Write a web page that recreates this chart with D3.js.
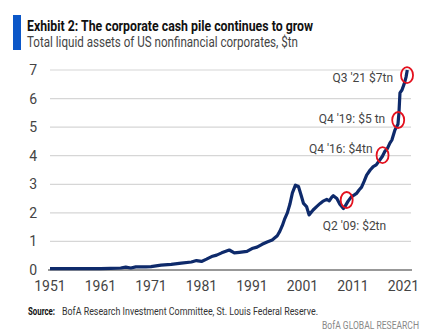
<!DOCTYPE html>
<html>
<head>
<meta charset="utf-8">
<script src="https://cdn.jsdelivr.net/npm/d3@7"></script>
<style>
  body { margin: 0; background: #fff; }
  svg { display: block; font-family: "Liberation Sans Narrow", "Roboto", sans-serif; }
</style>
</head>
<body>
<svg id="chart" width="443" height="333"></svg>
<script>
// Total liquid assets of US nonfinancial corporates, $tn
const years = [1951, 1953, 1955, 1957, 1959, 1961, 1963, 1965, 1966, 1967, 1968, 1970, 1971, 1973, 1975,
  1977, 1979, 1980, 1981, 1982, 1983, 1984, 1985, 1986.5, 1987.5, 1988.5, 1990, 1991, 1992, 1993,
  1994, 1995, 1996, 1996.5, 1997, 1997.5, 1998, 1998.5, 1999, 1999.6, 2000.2, 2000.8, 2001.2, 2001.8,
  2002.3, 2003.1, 2003.8, 2004.5, 2005, 2005.8, 2006.3, 2006.8, 2007.1, 2007.8, 2008.4, 2009.1,
  2009.4, 2010, 2010.7, 2011.2, 2011.7, 2012.2, 2012.7, 2013.2, 2013.7, 2014.4, 2015, 2015.6,
  2016.3, 2016.8, 2017.3, 2017.8, 2018.3, 2018.7, 2019.3, 2019.9, 2020.1, 2020.3, 2020.7, 2021.2,
  2021.5, 2021.75];
const values = [0.05, 0.05, 0.05, 0.05, 0.05, 0.05, 0.06, 0.07, 0.1, 0.07, 0.11, 0.11, 0.12, 0.17, 0.2,
  0.24, 0.28, 0.33, 0.3, 0.38, 0.47, 0.52, 0.6, 0.7, 0.6, 0.62, 0.65, 0.75, 0.8, 0.9,
  0.98, 1.05, 1.2, 1.35, 1.55, 1.8, 2.0, 2.3, 2.7, 2.97, 2.92, 2.57, 2.33, 2.22,
  1.93, 2.1, 2.22, 2.33, 2.4, 2.47, 2.42, 2.55, 2.6, 2.5, 2.3, 2.15,
  2.22, 2.4, 2.57, 2.62, 2.68, 2.8, 2.9, 3.1, 3.32, 3.5, 3.62, 3.68,
  3.85, 3.97, 4.15, 4.25, 4.44, 4.55, 4.9, 5.1, 5.5, 6.2, 6.3, 6.55,
  6.75, 7.0];

const yTicks = [0, 1, 2, 3, 4, 5, 6, 7];
const xTicks = [1951, 1961, 1971, 1981, 1991, 2001, 2011, 2021];

// Highlighted quarters (ring centre on the line, label offset from it)
const callouts = [
  { label: "Q2 '09: $2tn", year: 2009.75, value: 2.45, dx: -24, dy: 30, anchor: "start" },
  { label: "Q4 '16: $4tn", year: 2016.85, value: 4.02, dx: -10, dy: -2, anchor: "end" },
  { label: "Q4 '19: $5 tn", year: 2019.95, value: 5.25, dx: -13, dy: 3, anchor: "end" },
  { label: "Q3 '21 $7tn", year: 2021.7, value: 6.82, dx: -14, dy: 7, anchor: "end" }
];

const svg = d3.select("#chart");
const data = years.map((y, i) => ({ year: y, value: values[i] }));

const x = d3.scaleLinear().domain([1951, 2021]).range([50, 403.5]);
const y = d3.scaleLinear().domain([0, 7]).range([270, 70]);

// Header
svg.append("rect").attr("x", 13).attr("y", 15).attr("width", 8).attr("height", 35).attr("fill", "#0b57c8");
svg.append("text")
  .attr("x", 27).attr("y", 31)
  .attr("font-size", 14).attr("font-weight", "bold").attr("fill", "#111")
  .attr("textLength", 286).attr("lengthAdjust", "spacingAndGlyphs")
  .text("Exhibit 2: The corporate cash pile continues to grow");
svg.append("text")
  .attr("x", 27).attr("y", 47)
  .attr("font-size", 14).attr("fill", "#444")
  .attr("textLength", 271).attr("lengthAdjust", "spacingAndGlyphs")
  .text("Total liquid assets of US nonfinancial corporates, $tn");

// Gridlines
svg.append("g")
  .selectAll("line")
  .data(yTicks.filter((d) => d > 0))
  .join("line")
  .attr("x1", 50).attr("x2", 411)
  .attr("y1", (d) => y(d)).attr("y2", (d) => y(d))
  .attr("stroke", "#d6d6d6").attr("stroke-width", 1.2);

// Y labels
svg.append("g")
  .selectAll("text")
  .data(yTicks)
  .join("text")
  .attr("x", 37).attr("y", (d) => y(d) + 5)
  .attr("text-anchor", "end")
  .attr("font-size", 14).attr("fill", "#444")
  .text((d) => d);

// X axis
svg.append("line")
  .attr("x1", 48).attr("x2", 412)
  .attr("y1", y(0)).attr("y2", y(0))
  .attr("stroke", "#333").attr("stroke-width", 1.2);
svg.append("g")
  .selectAll("text")
  .data(xTicks)
  .join("text")
  .attr("x", (d) => x(d)).attr("y", 291)
  .attr("text-anchor", "middle")
  .attr("font-size", 14).attr("fill", "#444")
  .text((d) => d);

// Series
const line = d3.line().x((d) => x(d.year)).y((d) => y(d.value));
svg.append("path")
  .datum(data)
  .attr("d", line)
  .attr("fill", "none")
  .attr("stroke", "#0e2a6b")
  .attr("stroke-width", 3.2)
  .attr("stroke-linejoin", "round");

// Callout rings and labels
svg.append("g")
  .selectAll("ellipse")
  .data(callouts)
  .join("ellipse")
  .attr("cx", (d) => x(d.year)).attr("cy", (d) => y(d.value))
  .attr("rx", 6).attr("ry", 8)
  .attr("fill", "none").attr("stroke", "#e3101d").attr("stroke-width", 1.8);

svg.append("g")
  .selectAll("text")
  .data(callouts)
  .join("text")
  .attr("x", (d) => x(d.year) + d.dx)
  .attr("y", (d) => y(d.value) + d.dy)
  .attr("text-anchor", (d) => d.anchor)
  .attr("font-size", 12).attr("fill", "#444")
  .text((d) => d.label);

// Footer
svg.append("text")
  .attr("x", 28).attr("y", 315)
  .attr("font-size", 10).attr("font-weight", "bold").attr("fill", "#111")
  .attr("textLength", 27).attr("lengthAdjust", "spacingAndGlyphs")
  .text("Source:");
svg.append("text")
  .attr("x", 62).attr("y", 315)
  .attr("font-size", 10).attr("fill", "#333")
  .attr("textLength", 256).attr("lengthAdjust", "spacingAndGlyphs")
  .text("BofA Research Investment Committee, St. Louis Federal Reserve.");
svg.append("text")
  .attr("x", 419).attr("y", 329)
  .attr("text-anchor", "end")
  .attr("font-size", 10).attr("fill", "#888")
  .attr("textLength", 97).attr("lengthAdjust", "spacingAndGlyphs")
  .text("BofA GLOBAL RESEARCH");
</script>
</body>
</html>
